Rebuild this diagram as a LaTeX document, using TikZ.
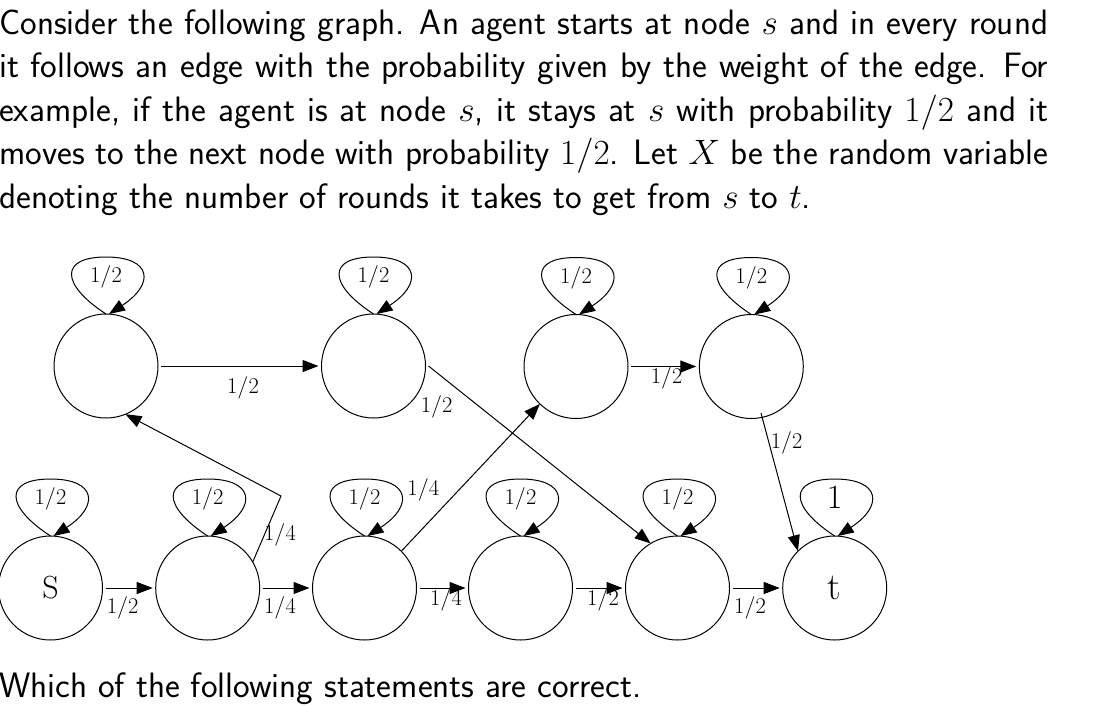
\documentclass[tikz,border=0pt]{standalone}
\usepackage{fix-cm}
\usetikzlibrary{arrows.meta,calc}
\begin{document}
\begin{tikzpicture}[x=1pt,y=-1pt,
  st/.style={circle,draw,line width=1pt,minimum size=104pt,inner sep=0pt,outer sep=0pt,font=\fontsize{32}{38}\selectfont},
  arr/.style={line width=1pt,-{Triangle[length=16pt,width=12pt]}},
  gap/.style={shorten <=3pt,shorten >=3pt},
  lbl/.style={inner sep=0pt,font=\fontsize{22.5}{27}\selectfont},
  para/.style={anchor=base west,inner sep=0pt,font=\sffamily\fontsize{35.3}{43.5}\selectfont}]
\useasboundingbox (0,0) rectangle (1103,705);
% text
\node[para] (p1) at (-1,34) {\hbox to 1049pt{Consider the following graph. An agent starts at node $s$ and in every round}};
\node[para] (p2) at (-1,77.5) {\hbox to 1049pt{it follows an edge with the probability given by the weight of the edge. For}};
\node[para] (p3) at (-1,121) {\hbox to 1049pt{example, if the agent is at node $s$, it stays at $s$ with probability $1/2$ and it}};
\node[para] (p4) at (-1,164.5) {\hbox to 1049pt{moves to the next node with probability $1/2$. Let $X$ be the random variable}};
\node[para] (p5) at (-1,208) {denoting the number of rounds it takes to get from $s$ to $t$.};
\node[para] (q) at (-1,697) {Which of the following statements are correct.};
% states
\node[st] (u1) at (106,366) {};
\node[st] (u2) at (373.5,366) {};
\node[st] (u3) at (576,366.5) {};
\node[st] (u4) at (751.3,366.5) {};
\node[st] (s) at (50.5,588) {S};
\node[st] (b2) at (207.7,588) {};
\node[st] (b3) at (364.5,588) {};
\node[st] (b4) at (520.5,588) {};
\node[st] (b5) at (677.5,588) {};
\node[st,font=\fontsize{38}{44}\selectfont] (t) at (834.7,588) {t};
% self loops
\foreach \n in {u1,u2,u3,u4,s,b2,b3,b4,b5,t}{
  \draw[arr] (\n.north) .. controls +(-46,-30) and +(-46,0) .. ($(\n.north)+(0,-57)$)
     .. controls +(46,0) and +(46,-30) .. ($(\n.north)+(3,0)$);
}
\foreach \n in {u1,u2,u3,u4,s,b2,b3,b4,b5}{
  \node[lbl] (l\n) at ($(\n.center)+(0,-89)$) {$1/2$};
}
\node[lbl,font=\fontsize{34}{40}\selectfont] (lt) at ($(t.center)+(0,-91)$) {1};
% edges
\draw[arr,gap] (u1) -- (u2);
\draw[arr,gap] (u3) -- (u4);
\draw[arr,gap] (s) -- (b2);
\draw[arr,gap] (b2) -- (b3);
\draw[arr,gap] (b3) -- (b4);
\draw[arr,gap] (b4) -- (b5);
\draw[arr,gap] (b5) -- (t);
\draw[arr] ([xshift=3pt]u2.east) -- (b5.121);
\draw[arr] (b3.45) -- (u3.226);
\coordinate (c4) at ($(u4.center)+(9.7,46.5)$);
\draw[arr] (c4) -- (t.135);
\coordinate (k) at (281,496);
\draw[arr] (b2.30) -- (k) -- (u1.292);
% edge labels
\node[lbl] (e1) at (243,388) {$1/2$};
\node[lbl] (e2) at (436.7,406.7) {$1/2$};
\node[lbl] (e3) at (666.7,377.7) {$1/2$};
\node[lbl] (e4) at (786.7,442.7) {$1/2$};
\node[lbl] (e5) at (280,535) {$1/4$};
\node[lbl] (e6) at (423.3,490) {$1/4$};
\node[lbl] (e7) at (122.7,608) {$1/2$};
\node[lbl] (e8) at (280,608) {$1/4$};
\node[lbl] (e9) at (446,600) {$1/4$};
\node[lbl] (e10) at (603,600) {$1/2$};
\node[lbl] (e11) at (750,608) {$1/2$};
\end{tikzpicture}
\end{document}
